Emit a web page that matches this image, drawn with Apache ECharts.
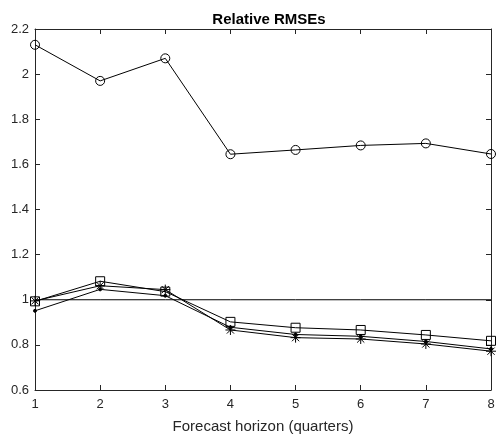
<!DOCTYPE html>
<html>
<head>
<meta charset="utf-8">
<script src="https://cdn.jsdelivr.net/npm/echarts@6/dist/echarts.min.js"></script>
<style>
  html, body { margin: 0; padding: 0; background: #fff; }
  #chart { width: 498px; height: 434px; }
</style>
</head>
<body>
<div id="chart"></div>
<script>
// forecast horizons (quarters)
const horizons = [1, 2, 3, 4, 5, 6, 7, 8];

// relative RMSEs per model
const circleVals = [2.130, 1.970, 2.070, 1.645, 1.664, 1.684, 1.693, 1.646];
const squareVals = [0.993, 1.082, 1.036, 0.902, 0.876, 0.866, 0.844, 0.818];
const starVals = [0.995, 1.062, 1.045, 0.866, 0.832, 0.826, 0.804, 0.772];
const dotVals = [0.951, 1.046, 1.018, 0.878, 0.846, 0.838, 0.815, 0.782];
const refVals = [1, 1, 1, 1, 1, 1, 1, 1];

const yTicks = [0.6, 0.8, 1, 1.2, 1.4, 1.6, 1.8, 2, 2.2];

const pair = vals => horizons.map((h, i) => [h, vals[i]]);

const axisColor = '#262626';
const font = 'Liberation Sans, Arial, sans-serif';
const starPath = 'path://M0,-5L0,5M-5,0L5,0M-3.6,-3.6L3.6,3.6M-3.6,3.6L3.6,-3.6';

function lineSeries(name, vals, symbol, size, filled) {
  return {
    name: name,
    type: 'line',
    data: pair(vals),
    symbol: symbol,
    symbolSize: size,
    showSymbol: symbol !== 'none',
    lineStyle: { color: '#000', width: 1 },
    itemStyle: {
      color: filled ? '#000' : 'transparent',
      borderColor: '#000',
      borderWidth: 1
    },
    emphasis: { disabled: true },
    animation: false,
    z: 3
  };
}

const chart = echarts.init(document.getElementById('chart'));

chart.setOption({
  animation: false,
  title: {
    text: 'Relative RMSEs',
    left: 264,
    textAlign: 'center',
    top: 7,
    textStyle: { fontFamily: font, fontSize: 15, fontWeight: 'bold', color: '#000' }
  },
  grid: { left: 35, right: 7, top: 29, bottom: 44, containLabel: false, outerBoundsMode: 'none' },
  xAxis: [{
    type: 'value',
    min: 1,
    max: 8,
    interval: 1,
    name: 'Forecast horizon (quarters)',
    nameLocation: 'middle',
    nameGap: 29,
    nameTextStyle: { fontFamily: font, fontSize: 15, color: axisColor },
    axisLine: { lineStyle: { color: axisColor, width: 1 } },
    axisTick: { inside: true, length: 5, lineStyle: { color: axisColor } },
    axisLabel: { fontFamily: font, fontSize: 13, color: axisColor, margin: 8 },
    splitLine: { show: false }
  }, {
    type: 'value',
    position: 'top',
    min: 1,
    max: 8,
    interval: 1,
    axisLine: { show: true, lineStyle: { color: axisColor, width: 1 } },
    axisTick: { show: true, inside: true, length: 5, lineStyle: { color: axisColor } },
    axisLabel: { show: false },
    splitLine: { show: false }
  }],
  yAxis: [{
    type: 'value',
    min: yTicks[0],
    max: yTicks[yTicks.length - 1],
    interval: 0.2,
    axisLine: { show: true, lineStyle: { color: axisColor, width: 1 } },
    axisTick: { show: true, inside: true, length: 5, lineStyle: { color: axisColor } },
    axisLabel: {
      fontFamily: font, fontSize: 13, color: axisColor, margin: 6,
      formatter: v => String(+v.toFixed(1))
    },
    splitLine: { show: false }
  }, {
    type: 'value',
    position: 'right',
    min: yTicks[0],
    max: yTicks[yTicks.length - 1],
    interval: 0.2,
    axisLine: { show: true, lineStyle: { color: axisColor, width: 1 } },
    axisTick: { show: true, inside: true, length: 5, lineStyle: { color: axisColor } },
    axisLabel: { show: false },
    splitLine: { show: false }
  }],
  series: [
    lineSeries('ref', refVals, 'none', 0, false),
    lineSeries('circle', circleVals, 'circle', 9, false),
    lineSeries('square', squareVals, 'rect', 9, false),
    lineSeries('star', starVals, starPath, 10, false),
    lineSeries('dot', dotVals, 'circle', 3, true)
  ]
});
</script>
</body>
</html>
